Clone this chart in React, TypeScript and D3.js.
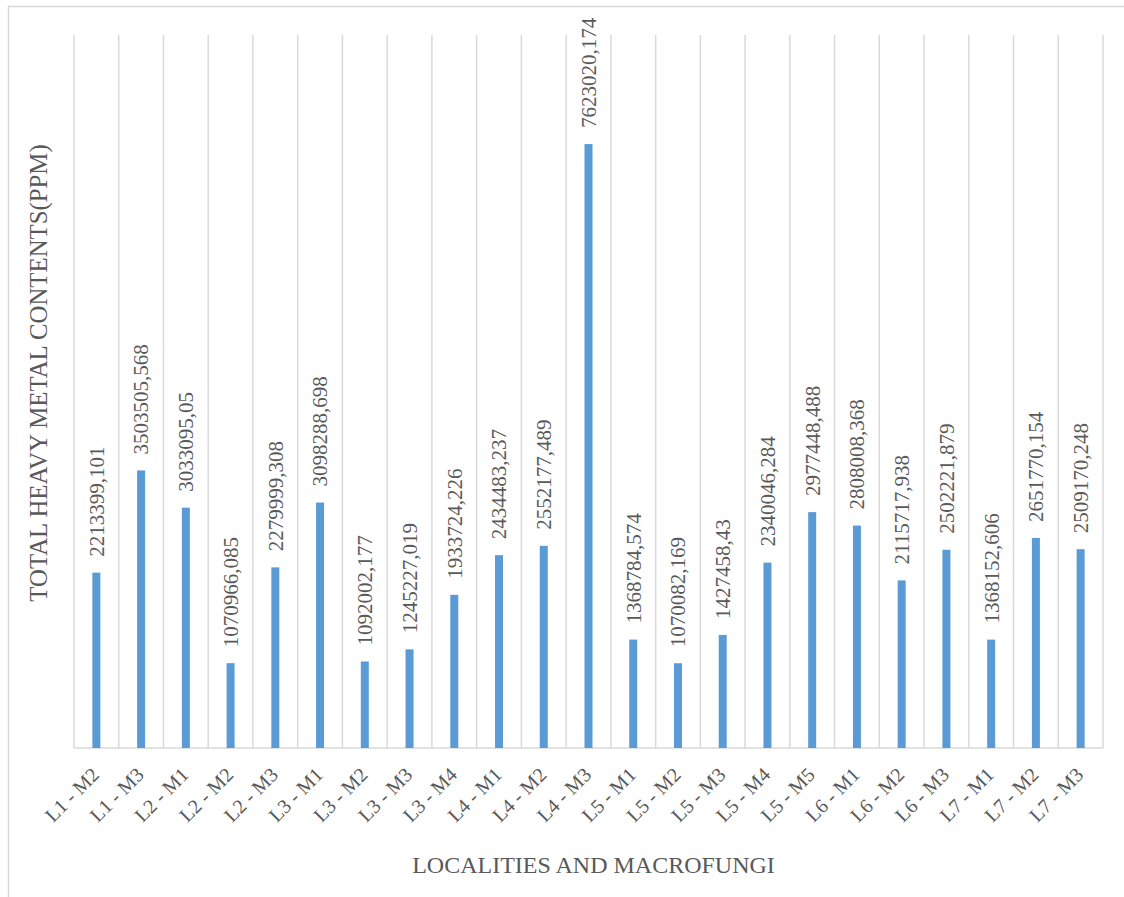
import React from "react";
import * as d3 from "d3";

const categories = [
  "L1 - M2", "L1 - M3", "L2 - M1", "L2 - M2", "L2 - M3", "L3 - M1", "L3 - M2", "L3 - M3",
  "L3 - M4", "L4 - M1", "L4 - M2", "L4 - M3", "L5 - M1", "L5 - M2", "L5 - M3", "L5 - M4",
  "L5 - M5", "L6 - M1", "L6 - M2", "L6 - M3", "L7 - M1", "L7 - M2", "L7 - M3",
];

const values = [
  2213399.101, 3503505.568, 3033095.05, 1070966.085, 2279999.308, 3098288.698, 1092002.177,
  1245227.019, 1933724.226, 2434483.237, 2552177.489, 7623020.174, 1368784.574, 1070082.169,
  1427458.43, 2340046.284, 2977448.488, 2808008.368, 2115717.938, 2502221.879, 1368152.606,
  2651770.154, 2509170.248,
];

const labels = [
  "2213399,101", "3503505,568", "3033095,05", "1070966,085", "2279999,308", "3098288,698",
  "1092002,177", "1245227,019", "1933724,226", "2434483,237", "2552177,489", "7623020,174",
  "1368784,574", "1070082,169", "1427458,43", "2340046,284", "2977448,488", "2808008,368",
  "2115717,938", "2502221,879", "1368152,606", "2651770,154", "2509170,248",
];

const W = 1124;
const H = 897;
const left = 74;
const right = 1103;
const top = 35;
const bottom = 748;
const serif = { fontFamily: "'Liberation Serif', 'Times New Roman', Times, serif" };
const textColor = "#595959";
const gridColor = "#d9d9d9";

const App: React.FC = () => {
  const x = d3.scaleBand<string>().domain(categories).range([left, right]).padding(0);
  const y = d3.scaleLinear().domain([0, 9000000]).range([bottom, top]);
  const barW = 8;

  const edges = categories.map((c) => x(c)!).concat([right]);

  return (
    <svg
      width={W}
      height={H}
      style={{ position: "absolute", left: 0, top: 0, background: "#fff" }}
    >
      <rect x={8.5} y={6.5} width={W} height={H} fill="#fff" stroke={gridColor} strokeWidth={1.5} />
      {edges.map((e, i) => (
        <line key={i} x1={e} x2={e} y1={top} y2={bottom} stroke={gridColor} strokeWidth={1.5} />
      ))}
      <line x1={left} x2={right} y1={bottom} y2={bottom} stroke={gridColor} strokeWidth={1.5} />
      <g style={serif} fill={textColor}>
        {categories.map((c, i) => {
          const cx = x(c)! + x.bandwidth() / 2;
          return (
            <g key={c}>
              <rect x={cx - barW / 2} y={y(values[i])} width={barW} height={bottom - y(values[i])} fill="#5b9bd5" />
              <text
                transform={`translate(${cx},${y(values[i]) - 16}) rotate(-90)`}
                dy="0.35em"
                style={{ ...serif, fontSize: "21px" }}
              >
                {labels[i]}
              </text>
              <text
                transform={`translate(${cx + 4},${bottom + 28}) rotate(-45)`}
                textAnchor="end"
                style={{ ...serif, fontSize: "20px" }}
              >
                {c}
              </text>
            </g>
          );
        })}
        <text
          x={(left + right) / 2 + 5}
          y={873}
          textAnchor="middle"
          style={{ ...serif, fontSize: "24px" }}
        >
          LOCALITIES AND MACROFUNGI
        </text>
        <text
          transform={`translate(47,373) rotate(-90)`}
          textAnchor="middle"
          style={{ ...serif, fontSize: "24.8px" }}
        >
          TOTAL HEAVY METAL CONTENTS(PPM)
        </text>
      </g>
    </svg>
  );
};

export default App;
